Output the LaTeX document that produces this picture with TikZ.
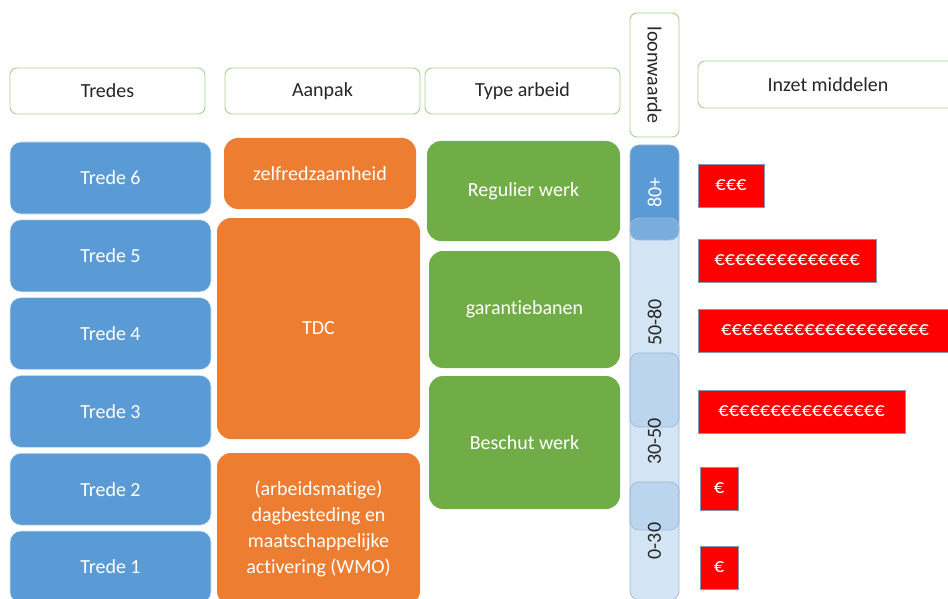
\documentclass[tikz,border=0pt]{standalone}
\usepackage{fontspec}
\setmainfont{Carlito}[Ligatures=NoCommon]
\usepackage{xcolor}
\usetikzlibrary{positioning}

\definecolor{tredeblue}{HTML}{5B9BD5}
\definecolor{aanpakorange}{HTML}{ED7D31}
\definecolor{arbeidgreen}{HTML}{70AD47}
\definecolor{kopgreen}{HTML}{A9D18E}
\definecolor{loonlight}{HTML}{9DC3E6}
\definecolor{loonedge}{HTML}{9FB6D6}
\definecolor{euroedge}{HTML}{8497B0}

\begin{document}
\begin{tikzpicture}[x=1pt,y=-1pt,font=\fontsize{20}{26}\selectfont,
  every node/.style={inner sep=0pt,outer sep=0pt,align=center},
  kop/.style={draw=kopgreen,line width=0.9pt,fill=white,rounded corners=7pt,text=black!85},
  tredebox/.style={fill=tredeblue,draw=white!75!tredeblue,line width=0.6pt,rounded corners=11pt,
    text=white,minimum width=201pt,minimum height=72pt},
  aanpakbox/.style={fill=aanpakorange,rounded corners=14pt,text=white},
  arbeidbox/.style={fill=arbeidgreen,rounded corners=14pt,text=white},
  loonbox/.style={draw=loonedge,line width=0.7pt,rounded corners=9pt,rotate=90,minimum height=49pt},
  eurobox/.style={fill=red,draw=euroedge,line width=0.6pt,text=white,minimum height=43pt,
    font=\fontsize{20.5}{26}\selectfont}]
  \clip (0,0) rectangle (948,599);

  % kopjes
  \node[kop,minimum width=195pt,minimum height=46pt] (kTredes) at (107.5,91) {Tredes};
  \node[kop,minimum width=195pt,minimum height=46pt] (kAanpak) at (322.5,91) {Aanpak};
  \node[kop,minimum width=195pt,minimum height=46pt] (kArbeid) at (522.5,91) {Type arbeid};
  \node[kop,rotate=-90,minimum width=124pt,minimum height=49pt] (kLoon) at (654.5,75) {loonwaarde};
  \node[kop,minimum width=260pt,minimum height=47pt] (kInzet) at (828,84.5) {Inzet middelen};

  % tredes
  \foreach \n in {1,...,6}
    \node[tredebox] (t\n) at (110.5,{178+(6-\n)*77.8}) {Trede \n};

  % aanpak
  \node[aanpakbox,minimum width=192pt,minimum height=71pt] (zelf) at (320,173.5) {zelfredzaamheid};
  \node[aanpakbox,minimum width=203pt,minimum height=221pt] (tdc) at (318.5,328.5) {TDC};
  \node[aanpakbox,minimum width=203pt,minimum height=152pt] (dagb) at (318.5,529)
    {(arbeidsmatige)\\dagbesteding en\\maatschappelijke\\activering (WMO)};

  % type arbeid
  \node[arbeidbox,minimum width=193pt,minimum height=100pt] (regulier) at (523.5,191) {Regulier werk};
  \node[arbeidbox,minimum width=191pt,minimum height=117pt] (garantie) at (524.5,309.5) {garantiebanen};
  \node[arbeidbox,minimum width=191pt,minimum height=133pt] (beschut) at (524.5,442.5) {Beschut werk};

  % loonwaarde
  \node[loonbox,fill=tredeblue,text=white,minimum width=95pt] (l80) at (654.5,192.5) {80+};
  \node[loonbox,fill=loonlight,fill opacity=0.45,text opacity=1,text=black!85,minimum width=209pt] (l50) at (654.5,322.5) {50-80};
  \node[loonbox,fill=loonlight,fill opacity=0.45,text opacity=1,text=black!85,minimum width=177pt] (l30) at (654.5,441.5) {30-50};
  \node[loonbox,fill=loonlight,fill opacity=0.45,text opacity=1,text=black!85,minimum width=118pt] (l0) at (654.5,541) {0-30};

  % inzet middelen
  \node[eurobox,minimum width=66pt] (e6) at (731,185.5) {€€€};
  \node[eurobox,minimum width=178pt] (e5) at (787,260.5) {€€€€€€€€€€€€€€};
  \node[eurobox,minimum width=254pt] (e4) at (825,330.5) {€€€€€€€€€€€€€€€€€€€€};
  \node[eurobox,minimum width=207pt] (e3) at (801.5,411.5) {€€€€€€€€€€€€€€€€};
  \node[eurobox,minimum width=38pt] (e2) at (719,488.5) {€};
  \node[eurobox,minimum width=38pt] (e1) at (719,567.5) {€};
\end{tikzpicture}
\end{document}
